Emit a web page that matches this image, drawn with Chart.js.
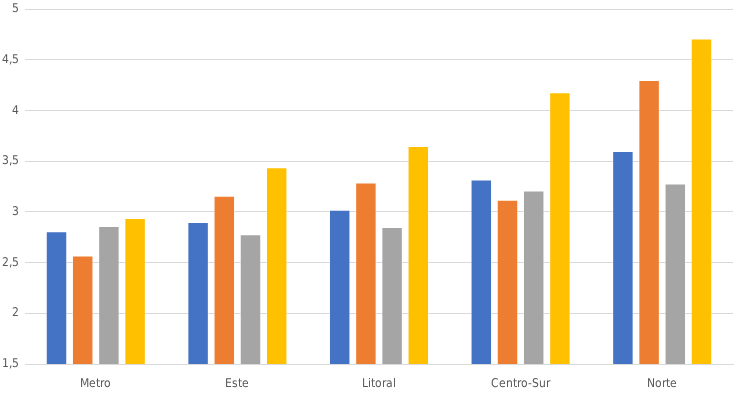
<!DOCTYPE html>
<html>
<head>
<meta charset="utf-8">
<script src="https://cdn.jsdelivr.net/npm/chart.js@4/dist/chart.umd.min.js"></script>
<style>
  @font-face { font-family: "CondLabel"; src: local("DejaVu Sans Condensed"), local("DejaVuSansCondensed"), local("Liberation Sans Narrow"), local("LiberationSansNarrow-Regular"); }
  html, body { margin: 0; padding: 0; background: #fff; }
  #wrap { width: 738px; height: 396px; }
  #probe { font-family: CondLabel; position: absolute; left: -100px; }
</style>
</head>
<body>
<span id="probe">Metro</span>
<div id="wrap"><canvas id="chart"></canvas></div>
<script>
const categories = ["Metro", "Este", "Litoral", "Centro-Sur", "Norte"];
const seriesBlue = [2.81, 2.90, 3.02, 3.32, 3.60];
const seriesOrange = [2.57, 3.16, 3.29, 3.12, 4.30];
const seriesGray = [2.86, 2.78, 2.85, 3.21, 3.28];
const seriesYellow = [2.94, 3.44, 3.65, 4.18, 4.71];
const yTicks = [1.5, 2, 2.5, 3, 3.5, 4, 4.5, 5];

const fontFamily = "CondLabel, 'DejaVu Sans Condensed', 'Liberation Sans Narrow', sans-serif";
const textColor = "#595959";

function dataset(data, color) {
  return {
    data: data,
    backgroundColor: color,
    borderColor: "rgba(255,255,255,0.45)",
    borderWidth: 1,
    categoryPercentage: 0.74,
    barPercentage: 0.82
  };
}

function draw() {
  new Chart(document.getElementById("chart"), {
    type: "bar",
    data: {
      labels: categories,
      datasets: [
        dataset(seriesBlue, "#4472C4"),
        dataset(seriesOrange, "#ED7D31"),
        dataset(seriesGray, "#A5A5A5"),
        dataset(seriesYellow, "#FFC000")
      ]
    },
    options: {
      responsive: true,
      maintainAspectRatio: false,
      animation: false,
      layout: { padding: { top: 9, right: 5, left: 0, bottom: 0 } },
      plugins: {
        legend: { display: false },
        tooltip: { enabled: false }
      },
      scales: {
        x: {
          afterFit: (axis) => {
            axis.height = 32;
            axis.paddingLeft = 0;
            axis.paddingRight = 0;
          },
          grid: { display: false, drawTicks: false },
          border: { color: "#d9d9d9", width: 1 },
          ticks: {
            color: textColor,
            font: { family: fontFamily, size: 12 },
            padding: 13
          }
        },
        y: {
          min: 1.5,
          max: 5,
          afterFit: (axis) => {
            axis.width = 25;
            axis.paddingTop = 0;
            axis.paddingBottom = 0;
          },
          afterBuildTicks: (axis) => {
            axis.ticks = yTicks.map((v) => ({ value: v }));
          },
          grid: { color: "#d9d9d9", lineWidth: 1, drawTicks: false },
          border: { display: false },
          ticks: {
            color: textColor,
            font: { family: fontFamily, size: 12 },
            padding: 6,
            callback: (value) => String(value).replace(".", ",")
          }
        }
      }
    }
  });
}

if (document.fonts && document.fonts.load) {
  document.fonts.load("12px CondLabel").then(draw, draw);
} else {
  draw();
}
</script>
</body>
</html>
